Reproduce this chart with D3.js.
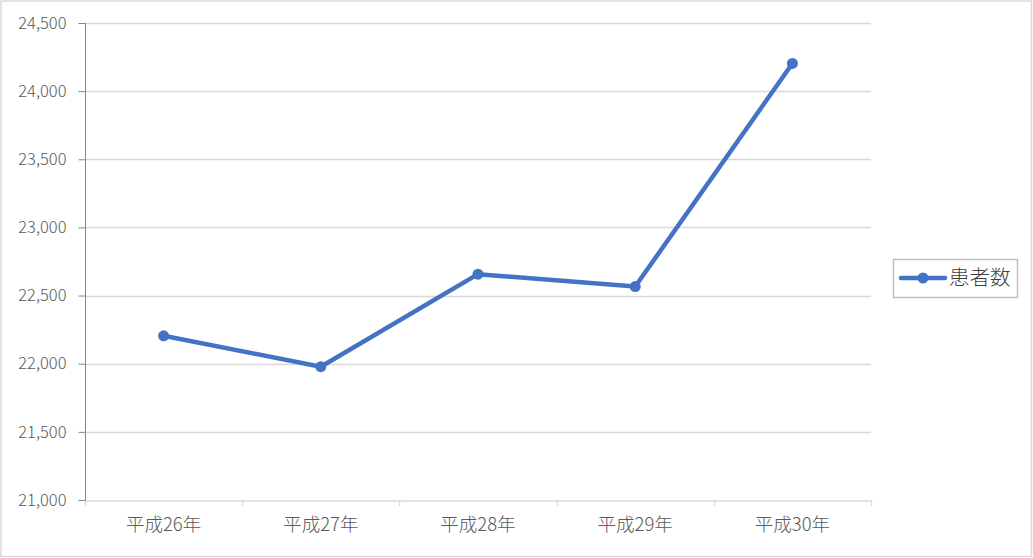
<!DOCTYPE html>
<html><head><meta charset="utf-8">
<script src="https://cdn.jsdelivr.net/npm/d3@7"></script>
<style>
html,body{margin:0;padding:0;background:#fff;}
svg{display:block;}
text{font-family:"Noto Sans CJK JP","Noto Sans",sans-serif;}
</style></head>
<body>
<script>
const categories = ["平成26年","平成27年","平成28年","平成29年","平成30年"];
const patients = [22205, 21978, 22657, 22566, 24203];
const yTicks = [21000,21500,22000,22500,23000,23500,24000,24500];
const seriesName = "患者数";

const W = 1033, H = 558;
const svg = d3.select("body").append("svg").attr("width", W).attr("height", H);

svg.append("rect").attr("x",1).attr("y",1).attr("width",W-2.5).attr("height",H-2.5)
  .attr("fill","#fff").attr("stroke","#d9d9d9").attr("stroke-width",1.5);

const pL = 85, pR = 871, pT = 23, pB = 500;
const x = d3.scaleBand().domain(categories).range([pL, pR]);
const y = d3.scaleLinear().domain([21000, 24500]).range([pB, pT]);

// gridlines
svg.append("g").selectAll("line").data(yTicks.slice(1)).join("line")
  .attr("x1", pL).attr("x2", pR)
  .attr("y1", d => Math.round(y(d)) + 0.5).attr("y2", d => Math.round(y(d)) + 0.5)
  .attr("stroke", "#d9d9d9").attr("stroke-width", 1.3);

// x axis
const xAxis = svg.append("g").attr("transform", `translate(0,${pB + 0.5})`)
  .call(d3.axisBottom(x).tickSize(0).tickPadding(17));
xAxis.select(".domain").attr("stroke", "#d9d9d9").attr("stroke-width", 1.3);
xAxis.selectAll("text").attr("fill", "#595959").style("font-size", "18.5px")
  .style("font-family", '"Noto Sans CJK JP",sans-serif').style("font-weight", "300");
// category boundary ticks
const bounds = categories.map(c => x(c)).concat([pR]);
svg.append("g").selectAll("line").data(bounds).join("line")
  .attr("x1", d => Math.round(d) + 0.5).attr("x2", d => Math.round(d) + 0.5)
  .attr("y1", pB).attr("y2", pB + 6)
  .attr("stroke", "#d9d9d9").attr("stroke-width", 1.3);

// y axis
const yAxis = svg.append("g").attr("transform", `translate(${pL + 0.5},0)`)
  .call(d3.axisLeft(y).tickValues(yTicks).tickSize(7).tickPadding(12)
    .tickFormat(d3.format(",")));
yAxis.select(".domain").attr("stroke", "#868686").attr("d", `M0,${pT}V${pB}`);
yAxis.selectAll(".tick line").attr("stroke", "#868686");
yAxis.selectAll("text").attr("fill", "#595959").style("font-size", "16.5px")
  .style("font-family", '"Noto Sans CJK JP",sans-serif').style("font-weight", "300");

// line
const cx = c => x(c) + x.bandwidth() / 2;
const line = d3.line().x((d, i) => cx(categories[i])).y(d => y(d));
svg.append("path").datum(patients).attr("d", line)
  .attr("fill", "none").attr("stroke", "#4472C4").attr("stroke-width", 4.5)
  .attr("stroke-linejoin", "round").attr("stroke-linecap", "round");
svg.append("g").selectAll("circle").data(patients).join("circle")
  .attr("cx", (d, i) => cx(categories[i])).attr("cy", d => y(d)).attr("r", 5.5)
  .attr("fill", "#4472C4");

// legend
const lg = svg.append("g");
lg.append("rect").attr("x", 893.5).attr("y", 259.5).attr("width", 124).attr("height", 38)
  .attr("fill", "#fff").attr("stroke", "#bfbfbf").attr("stroke-width", 1.5);
lg.append("line").attr("x1", 901).attr("x2", 945).attr("y1", 278).attr("y2", 278)
  .attr("stroke", "#4472C4").attr("stroke-width", 4.5).attr("stroke-linecap", "round");
lg.append("circle").attr("cx", 923).attr("cy", 278).attr("r", 5.5).attr("fill", "#4472C4");
lg.append("text").attr("x", 949).attr("y", 278).attr("dy", "0.35em")
  .attr("fill", "#404040").style("font-size", "20.5px").style("font-weight", "300").text(seriesName);
</script>
</body></html>
